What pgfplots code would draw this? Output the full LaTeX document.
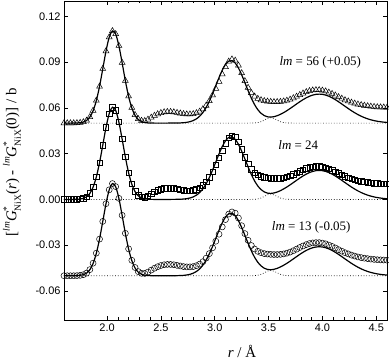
\documentclass[border=0pt]{standalone}
\usepackage{fontspec}
\setmainfont{Liberation Serif}
\newfontfamily\arial{Liberation Sans}
\usepackage{pgfplots}
\usepackage{pgfplotstable}
\pgfplotsset{compat=1.18}
\pgfplotstableread{
r F D P
1.60 0 0 0
1.63 0 0 0
1.66 0 0 0
1.69 0.00002 0.00002 0
1.72 0.00008 0.00008 0
1.75 0.00025 0.00025 0
1.78 0.00069 0.0007 0
1.81 0.00174 0.0017 0
1.84 0.00394 0.0040 0
1.87 0.00801 0.0082 0
1.90 0.01464 0.0148 0
1.93 0.02404 0.0240 0
1.96 0.0355 0.0356 0
1.99 0.04714 0.0472 0
2.02 0.05628 0.0563 0
2.05 0.06041 0.0604 0
2.08 0.05831 0.0584 0
2.11 0.0506 0.0507 0
2.14 0.03948 0.0396 0
2.17 0.0277 0.0278 0
2.20 0.01747 0.0176 0
2.23 0.00991 0.0101 0
2.26 0.00505 0.0054 0
2.29 0.00232 0.0027 0
2.32 0.00096 0.0016 0
2.35 0.00035 0.0015 0
2.38 0.00012 0.0024 0
2.41 0.00004 0.0037 0
2.44 0 0.0049 0
2.47 0 0.0059 0
2.50 0 0.0067 0
2.53 0 0.0072 0
2.56 0 0.0074 0
2.59 0.00001 0.0074 0
2.62 0.00003 0.0072 0
2.65 0.00006 0.0068 0
2.68 0.00012 0.0064 0
2.71 0.00025 0.0060 0
2.74 0.0005 0.0058 0
2.77 0.00093 0.0058 0
2.80 0.00165 0.0060 0
2.83 0.00279 0.0066 0
2.86 0.00451 0.0076 0
2.89 0.00695 0.0092 0
2.92 0.01023 0.0115 0
2.95 0.01435 0.0145 0
2.98 0.0192 0.0183 0
3.01 0.02451 0.0226 0
3.04 0.02985 0.0272 0
3.07 0.03467 0.0320 0
3.10 0.03842 0.0368 0
3.13 0.0406 0.0404 0
3.16 0.04093 0.0418 0
3.19 0.03937 0.0410 0
3.22 0.03615 0.0378 0
3.25 0.03167 0.0328 0
3.28 0.02652 0.0276 0
3.31 0.02125 0.0232 0
3.34 0.01634 0.0198 0.00002
3.37 0.01213 0.0175 0.00009
3.40 0.00883 0.0160 0.00032
3.43 0.00645 0.0151 0.00092
3.46 0.00492 0.0145 0.00193
3.49 0.00412 0.0142 0.00302
3.52 0.00393 0.0140 0.0035
3.55 0.0042 0.0139 0.00302
3.58 0.00483 0.0139 0.00193
3.61 0.00574 0.0140 0.00092
3.64 0.00687 0.0143 0.00032
3.67 0.00814 0.0148 0.00009
3.70 0.00955 0.0155 0.00002
3.73 0.01102 0.0164 0
3.76 0.01252 0.0174 0
3.79 0.01399 0.0185 0
3.82 0.01536 0.0195 0
3.85 0.01658 0.0204 0
3.88 0.0176 0.0211 0
3.91 0.01836 0.0215 0
3.94 0.01884 0.0217 0
3.97 0.019 0.0217 0
4.00 0.01884 0.0214 0
4.03 0.01836 0.0209 0
4.06 0.0176 0.0201 0
4.09 0.01658 0.0192 0
4.12 0.01536 0.0182 0
4.15 0.01399 0.0171 0
4.18 0.01252 0.0161 0
4.21 0.01102 0.0151 0
4.24 0.00954 0.0143 0
4.27 0.00811 0.0135 0
4.30 0.00679 0.0129 0
4.33 0.00558 0.0123 0
4.36 0.00451 0.0119 0
4.39 0.00359 0.0115 0
4.42 0.0028 0.0112 0
4.45 0.00215 0.0109 0
4.48 0.00163 0.0107 0
4.51 0.00121 0.0105 0
4.54 0.00088 0.0104 0
4.57 0.00063 0.0103 0
4.60 0.00045 0.0102 0
}\gdata

\newcommand{\Gs}{\textit{G}\makebox[0pt][l]{\raisebox{0.45em}{\fontsize{9.5}{10}\selectfont *}}\raisebox{-0.3em}{\fontsize{9.5}{10}\selectfont NiX}}
\newcommand{\lm}{\raisebox{0.45em}{\fontsize{9.5}{10}\selectfont\textit{lm}}}

\begin{document}
\begin{tikzpicture}
\begin{axis}[
  scale only axis, width=323bp, height=319bp,
  xmin=1.6, xmax=4.6, ymin=-0.079, ymax=0.13,
  xtick={2.0,2.5,3.0,3.5,4.0,4.5}, minor x tick num=4,
  ytick={-0.06,-0.03,0,0.03,0.06,0.09,0.12},
  xtick pos=both, ytick pos=both,
  tick align=inside,
  major tick length=4bp, minor tick length=2.5bp,
  every tick/.style={black, line width=0.6bp},
  axis line style={line width=0.8bp},
  tick label style={font=\arial\fontsize{11}{13}\selectfont},
  /pgf/number format/assume math mode=true,
  xticklabel style={/pgf/number format/.cd, fixed, fixed zerofill, precision=1, /tikz/.cd},
  yticklabel style={/pgf/number format/.cd, fixed, fixed zerofill, precision=2, /tikz/.cd},
  xlabel={\fontsize{15}{17}\selectfont\textit{r} / Å},
  xlabel style={at={(axis description cs:0.551,0)}, anchor=base, yshift=-37bp},
  ylabel={\fontsize{15}{17}\selectfont[\lm\Gs(\textit{r}) - \lm\Gs(0)] / b},
  ylabel style={at={(axis description cs:-0.161,0.494)}, anchor=center},
  clip=false,
]
% lm = 56 (+0.05)
\addplot[black, dotted, line width=0.7bp, smooth] table[x=r, y expr=\thisrow{P}+0.05] {\gdata};
\addplot[black, line width=1.2bp, smooth] table[x=r, y expr=\thisrow{F}+0.05] {\gdata};
\addplot[only marks, mark=triangle, mark size=3.4bp, mark options={black, line width=0.5bp}] table[x=r, y expr=\thisrow{D}+0.05] {\gdata};
% lm = 24
\addplot[black, dotted, line width=0.7bp, smooth] table[x=r, y=P] {\gdata};
\addplot[black, line width=1.2bp, smooth] table[x=r, y=F] {\gdata};
\addplot[only marks, mark=square, mark size=2.7bp, mark options={black, line width=0.5bp}] table[x=r, y=D] {\gdata};
% lm = 13 (-0.05)
\addplot[black, dotted, line width=0.7bp, smooth] table[x=r, y expr=\thisrow{P}-0.05] {\gdata};
\addplot[black, line width=1.2bp, smooth] table[x=r, y expr=\thisrow{F}-0.05] {\gdata};
\addplot[only marks, mark=o, mark size=3bp, mark options={black, line width=0.5bp}] table[x=r, y expr=\thisrow{D}-0.05] {\gdata};

\node[anchor=west, inner sep=0pt, font=\fontsize{13}{15}\selectfont] at (axis cs:3.6,0.09) {\textit{lm} = 56 (+0.05)};
\node[anchor=west, inner sep=0pt, font=\fontsize{13}{15}\selectfont] at (axis cs:3.59,0.0354) {\textit{lm} = 24};
\node[anchor=west, inner sep=0pt, font=\fontsize{13}{15}\selectfont] at (axis cs:3.53,-0.0183) {\textit{lm} = 13 (-0.05)};

\coordinate (ll) at (axis description cs:0,0);
\coordinate (ur) at (axis description cs:1,1);
\end{axis}
\path (ll) ++(-64bp,-40bp) coordinate (bbA);
\path (ur) ++(2bp,1bp) coordinate (bbB);
\pgfresetboundingbox
\path[use as bounding box] (bbA) rectangle (bbB);
\end{tikzpicture}
\end{document}
